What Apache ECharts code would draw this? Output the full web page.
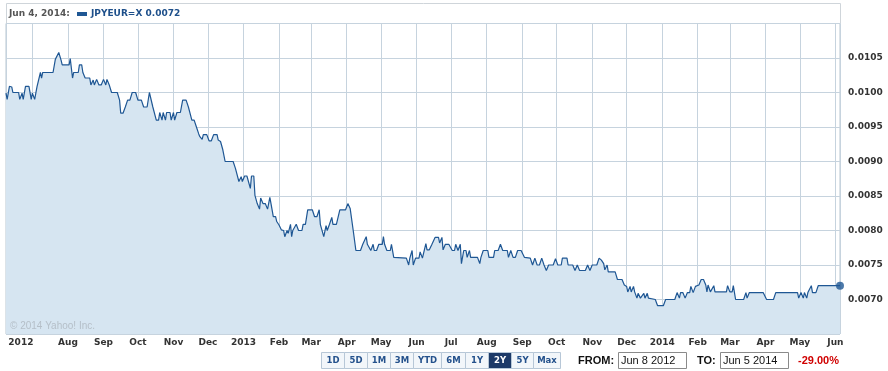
<!DOCTYPE html>
<html>
<head>
<meta charset="utf-8">
<script src="https://cdn.jsdelivr.net/npm/echarts@6/dist/echarts.min.js"></script>
<style>
html,body{margin:0;padding:0;background:#fff;}
#chart{width:888px;height:371px;}
</style>
</head>
<body>
<div id="chart"></div>
<script>
// ---- data ----
const seriesName = 'JPYEUR=X';
const legendDate = 'Jun 4, 2014:';
const legendValue = '0.0072';
const startDate = '2012-06-08';
const endDate = '2014-06-05';
const yTicks = [0.0070, 0.0075, 0.0080, 0.0085, 0.0090, 0.0095, 0.0100, 0.0105];
const monthNames = ['Jan','Feb','Mar','Apr','May','Jun','Jul','Aug','Sep','Oct','Nov','Dec'];
const rangeButtons = ['1D','5D','1M','3M','YTD','6M','1Y','2Y','5Y','Max'];
const selectedRange = '2Y';
const fromText = 'Jun 8 2012';
const toText = 'Jun 5 2014';
const changeText = '-29.00%';
const copyrightText = '\u00A9 2014 Yahoo! Inc.';

const dates = [
'2012-06-08','2012-06-09','2012-06-11','2012-06-13','2012-06-14','2012-06-19','2012-06-20','2012-06-22','2012-06-23','2012-06-25','2012-06-28','2012-06-30',
'2012-07-01','2012-07-03','2012-07-05','2012-07-08','2012-07-09','2012-07-10','2012-07-19','2012-07-21','2012-07-22','2012-07-24','2012-07-26','2012-07-27',
'2012-08-02','2012-08-03','2012-08-05','2012-08-06','2012-08-10','2012-08-11','2012-08-13','2012-08-14','2012-08-16','2012-08-20','2012-08-21','2012-08-23','2012-08-24','2012-08-26','2012-08-28','2012-08-30',
'2012-09-01','2012-09-03','2012-09-04','2012-09-06','2012-09-08','2012-09-13','2012-09-15','2012-09-16','2012-09-18','2012-09-20','2012-09-22','2012-09-24','2012-09-26','2012-09-29',
'2012-10-01','2012-10-04','2012-10-06','2012-10-09','2012-10-11','2012-10-14','2012-10-15','2012-10-17','2012-10-19','2012-10-20','2012-10-22','2012-10-23','2012-10-25','2012-10-26','2012-10-29','2012-10-30',
'2012-11-01','2012-11-02','2012-11-04','2012-11-07','2012-11-09','2012-11-12','2012-11-14','2012-11-17','2012-11-19','2012-11-21','2012-11-23','2012-11-24','2012-11-26','2012-11-27','2012-11-30',
'2012-12-02','2012-12-04','2012-12-06','2012-12-09','2012-12-10','2012-12-12','2012-12-14','2012-12-16','2012-12-23','2012-12-25','2012-12-26','2012-12-28','2012-12-30','2012-12-31',
'2013-01-02','2013-01-04','2013-01-07','2013-01-08','2013-01-10','2013-01-11','2013-01-13','2013-01-15','2013-01-16','2013-01-18','2013-01-20','2013-01-22','2013-01-24','2013-01-25','2013-01-27','2013-01-29','2013-01-30',
'2013-02-01','2013-02-03','2013-02-05','2013-02-06','2013-02-08','2013-02-09','2013-02-11','2013-02-12','2013-02-13','2013-02-16','2013-02-18','2013-02-21','2013-02-22','2013-02-24','2013-02-26',
'2013-03-02','2013-03-04','2013-03-06','2013-03-08','2013-03-09','2013-03-10','2013-03-12','2013-03-14','2013-03-15','2013-03-17','2013-03-19','2013-03-20','2013-03-23','2013-03-26','2013-03-31',
'2013-04-02','2013-04-04','2013-04-05','2013-04-07','2013-04-09','2013-04-13','2013-04-15','2013-04-16','2013-04-18','2013-04-19','2013-04-20','2013-04-22','2013-04-24','2013-04-25','2013-04-27','2013-04-29',
'2013-05-02','2013-05-03','2013-05-04','2013-05-06','2013-05-09','2013-05-10','2013-05-12','2013-05-23','2013-05-25','2013-05-26','2013-05-28','2013-05-29','2013-05-31',
'2013-06-03','2013-06-04','2013-06-06','2013-06-07','2013-06-09','2013-06-10','2013-06-12','2013-06-14','2013-06-17','2013-06-20','2013-06-21','2013-06-23','2013-06-24','2013-06-26','2013-06-29',
'2013-07-02','2013-07-04','2013-07-05','2013-07-07','2013-07-09','2013-07-10','2013-07-12','2013-07-14','2013-07-15','2013-07-17','2013-07-18','2013-07-24','2013-07-26','2013-07-27','2013-07-29',
'2013-08-02','2013-08-03','2013-08-07','2013-08-08','2013-08-11','2013-08-13','2013-08-15','2013-08-19','2013-08-20','2013-08-22','2013-08-24','2013-08-26','2013-08-28','2013-08-31',
'2013-09-03','2013-09-08','2013-09-10','2013-09-12','2013-09-14','2013-09-16','2013-09-18','2013-09-20','2013-09-22','2013-09-24','2013-09-28','2013-09-30',
'2013-10-02','2013-10-05','2013-10-06','2013-10-10','2013-10-11','2013-10-15','2013-10-17','2013-10-19','2013-10-21','2013-10-26','2013-10-28','2013-10-30',
'2013-11-01','2013-11-05','2013-11-07','2013-11-09','2013-11-11','2013-11-12','2013-11-14','2013-11-15','2013-11-21','2013-11-23','2013-11-27','2013-11-29',
'2013-12-01','2013-12-02','2013-12-04','2013-12-05','2013-12-07','2013-12-08','2013-12-10','2013-12-11','2013-12-13','2013-12-16','2013-12-17','2013-12-19','2013-12-20','2013-12-26','2013-12-28',
'2014-01-02','2014-01-04','2014-01-12','2014-01-14','2014-01-16','2014-01-17','2014-01-19','2014-01-21','2014-01-23','2014-01-25','2014-01-26','2014-01-28','2014-01-30','2014-01-31',
'2014-02-02','2014-02-04','2014-02-06','2014-02-08','2014-02-09','2014-02-10','2014-02-12','2014-02-13','2014-02-15','2014-02-16','2014-02-26','2014-02-27',
'2014-03-01','2014-03-03','2014-03-04','2014-03-06','2014-03-13','2014-03-15','2014-03-16','2014-03-18','2014-03-30',
'2014-04-02','2014-04-08','2014-04-10','2014-04-29','2014-04-30',
'2014-05-02','2014-05-04','2014-05-05','2014-05-07','2014-05-08','2014-05-11','2014-05-12','2014-05-15','2014-05-17','2014-06-05'
];

const rates = [
0.00999,0.00990,0.01009,0.01008,0.01000,0.01000,0.00990,0.00999,0.00990,0.01009,0.01009,0.00990,
0.00999,0.00990,0.01008,0.01029,0.01021,0.01029,0.01029,0.01048,0.01050,0.01058,0.01047,0.01040,
0.01040,0.01049,0.01021,0.01029,0.01029,0.01040,0.01040,0.01029,0.01021,0.01021,0.01011,0.01018,0.01011,0.01019,0.01011,0.01011,
0.01019,0.01011,0.01019,0.01011,0.01000,0.01000,0.00989,0.00970,0.00970,0.00979,0.00989,0.00989,0.01000,0.01000,
0.00989,0.00989,0.00979,0.00979,0.01000,0.00979,0.00979,0.00960,0.00960,0.00971,0.00960,0.00971,0.00960,0.00971,0.00971,0.00960,
0.00971,0.00960,0.00971,0.00971,0.00989,0.00989,0.00979,0.00960,0.00960,0.00950,0.00940,0.00936,0.00932,0.00939,0.00939,
0.00930,0.00930,0.00939,0.00939,0.00931,0.00929,0.00917,0.00900,0.00900,0.00890,0.00888,0.00871,0.00878,0.00871,
0.00879,0.00879,0.00861,0.00879,0.00879,0.00851,0.00839,0.00831,0.00847,0.00839,0.00839,0.00831,0.00848,0.00839,0.00820,0.00820,0.00813,
0.00808,0.00801,0.00800,0.00791,0.00800,0.00796,0.00809,0.00791,0.00800,0.00809,0.00800,0.00800,0.00809,0.00809,0.00830,
0.00830,0.00820,0.00820,0.00830,0.00809,0.00809,0.00791,0.00807,0.00800,0.00809,0.00819,0.00809,0.00809,0.00830,0.00830,
0.00839,0.00832,0.00830,0.00796,0.00771,0.00771,0.00780,0.00780,0.00791,0.00780,0.00780,0.00771,0.00780,0.00771,0.00771,0.00780,
0.00780,0.00791,0.00780,0.00771,0.00771,0.00780,0.00761,0.00760,0.00750,0.00760,0.00771,0.00750,0.00760,
0.00760,0.00769,0.00760,0.00762,0.00781,0.00772,0.00772,0.00779,0.00790,0.00790,0.00782,0.00790,0.00772,0.00780,0.00780,
0.00771,0.00771,0.00780,0.00771,0.00780,0.00752,0.00771,0.00771,0.00761,0.00771,0.00761,0.00761,0.00752,0.00761,0.00771,
0.00771,0.00761,0.00761,0.00771,0.00771,0.00780,0.00771,0.00771,0.00761,0.00771,0.00761,0.00761,0.00771,0.00771,
0.00761,0.00760,0.00750,0.00760,0.00750,0.00750,0.00760,0.00750,0.00742,0.00750,0.00750,0.00759,
0.00750,0.00750,0.00760,0.00760,0.00750,0.00750,0.00742,0.00750,0.00742,0.00742,0.00750,0.00742,
0.00750,0.00750,0.00760,0.00757,0.00752,0.00743,0.00750,0.00740,0.00740,0.00729,0.00729,0.00721,
0.00719,0.00711,0.00719,0.00711,0.00719,0.00711,0.00702,0.00709,0.00702,0.00709,0.00702,0.00709,0.00702,0.00700,0.00691,
0.00691,0.00700,0.00700,0.00710,0.00702,0.00710,0.00710,0.00702,0.00710,0.00710,0.00719,0.00710,0.00719,0.00721,
0.00721,0.00729,0.00729,0.00721,0.00711,0.00721,0.00711,0.00711,0.00720,0.00711,0.00711,0.00720,
0.00711,0.00711,0.00720,0.00700,0.00700,0.00710,0.00702,0.00710,0.00710,
0.00700,0.00700,0.00710,0.00710,0.00702,
0.00710,0.00702,0.00710,0.00702,0.00710,0.00720,0.00710,0.00710,0.00720,0.00720
];

// ---- chart ----
const FONT = '"DejaVu Sans", Verdana, sans-serif';
const ARIAL = '"Liberation Sans", Arial, sans-serif';
const LINE = '#1f5794';
const GRIDC = '#c6d3de';
const startTs = echarts.time.parse(startDate).getTime();
const endTs = echarts.time.parse(endDate).getTime();
const DAY = 86400000;

const seriesData = dates.map((d, i) => [d, rates[i]]);
const lastPoint = seriesData[seriesData.length - 1];

const chart = echarts.init(document.getElementById('chart'), null, {renderer: 'canvas'});

// bottom range buttons & inputs (UI decorations)
const btnEdges = [321, 344, 367, 390, 413, 441, 465, 488, 511, 533, 560];
const graphics = [];
rangeButtons.forEach((b, i) => {
  const sel = b === selectedRange;
  graphics.push({
    type: 'rect', silent: true,
    shape: {x: btnEdges[i] + 0.5, y: 352.5, width: btnEdges[i + 1] - btnEdges[i], height: 16},
    style: {fill: sel ? '#1d3a68' : '#f2f6fa', stroke: '#b7c7d7', lineWidth: 1}
  });
  graphics.push({
    type: 'text', silent: true,
    x: (btnEdges[i] + btnEdges[i + 1]) / 2 + 0.5, y: 361,
    style: {text: b, fill: sel ? '#ffffff' : '#24518c', font: 'bold 8.5px ' + FONT, align: 'center', verticalAlign: 'middle'}
  });
});
graphics.push(
  {type: 'text', silent: true, x: 578, y: 361, style: {text: 'FROM:', fill: '#111', font: 'bold 11px ' + ARIAL, verticalAlign: 'middle'}},
  {type: 'rect', silent: true, shape: {x: 618.5, y: 352.5, width: 68, height: 16}, style: {fill: '#fff', stroke: '#8a8a8a', lineWidth: 1}},
  {type: 'text', silent: true, x: 621, y: 361, style: {text: fromText, fill: '#111', font: '11px ' + ARIAL, verticalAlign: 'middle'}},
  {type: 'text', silent: true, x: 697, y: 361, style: {text: 'TO:', fill: '#111', font: 'bold 11px ' + ARIAL, verticalAlign: 'middle'}},
  {type: 'rect', silent: true, shape: {x: 720.5, y: 352.5, width: 68, height: 16}, style: {fill: '#fff', stroke: '#8a8a8a', lineWidth: 1}},
  {type: 'text', silent: true, x: 723, y: 361, style: {text: toText, fill: '#111', font: '11px ' + ARIAL, verticalAlign: 'middle'}},
  {type: 'text', silent: true, x: 798, y: 361, style: {text: changeText, fill: '#d00000', font: 'bold 11px ' + ARIAL, verticalAlign: 'middle'}},
  // legend strip
  {type: 'rect', silent: true, shape: {x: 6.5, y: 3.5, width: 834, height: 20}, style: {fill: 'none', stroke: '#cfd5da', lineWidth: 1}},
  {type: 'text', silent: true, x: 9, y: 14, style: {text: legendDate, fill: '#555', font: 'bold 9px ' + FONT, verticalAlign: 'middle'}},
  {type: 'rect', silent: true, shape: {x: 77, y: 12, width: 10, height: 4}, style: {fill: LINE}},
  {type: 'text', silent: true, x: 91, y: 14, style: {text: seriesName + ' ' + legendValue, fill: '#1d4f8a', font: 'bold 9px ' + FONT, verticalAlign: 'middle'}},
  {type: 'text', silent: true, x: 10, y: 326, z: 10, style: {text: copyrightText, fill: '#b5bfc8', font: '10px ' + ARIAL, verticalAlign: 'middle'}}
);

const option = {
  animation: false,
  backgroundColor: '#ffffff',
  grid: {left: 6, right: 48, top: 23.5, bottom: 37, show: true, borderColor: '#b9c6d1', borderWidth: 1, backgroundColor: 'transparent'},
  xAxis: {
    type: 'time',
    min: startDate,
    max: endDate,
    minInterval: 28 * DAY,
    maxInterval: 31 * DAY,
    axisLine: {show: false},
    axisTick: {show: false},
    splitLine: {show: true, lineStyle: {color: GRIDC, width: 1}},
    axisLabel: {
      show: true,
      interval: 0,
      hideOverlap: false,
      margin: 4,
      color: '#333',
      fontFamily: FONT,
      fontSize: 9,
      fontWeight: 'bold',
      formatter: function (value) {
        const d = new Date(value);
        if (value <= startTs + 1000) return '';
        if (value >= endTs - 1000) return '';
        if (d.getDate() !== 1) return '';
        // first month boundary after the start carries the starting year, drawn left of its tick
        if (value - startTs < 25 * DAY) return '{first|' + d.getFullYear() + '}';
        const m = d.getMonth();
        if (m === 0) return String(d.getFullYear());
        return monthNames[m];
      },
      rich: {
        first: {padding: [0, 23, 0, 0], color: '#333', fontFamily: FONT, fontSize: 9, fontWeight: 'bold'}
      }
    }
  },
  yAxis: {
    type: 'value',
    position: 'right',
    min: 0.0065,
    max: 0.0110,
    interval: 0.0005,
    axisLine: {show: false},
    axisTick: {show: false},
    splitLine: {show: true, lineStyle: {color: GRIDC, width: 1}},
    axisLabel: {
      margin: 8,
      color: '#333',
      fontFamily: FONT,
      fontSize: 9,
      fontWeight: 'bold',
      formatter: function (v) {
        const hit = yTicks.find(t => Math.abs(t - v) < 1e-7);
        return hit === undefined ? '' : hit.toFixed(4);
      }
    }
  },
  series: [
    {
      type: 'line',
      name: seriesName,
      data: seriesData,
      showSymbol: false,
      symbol: 'none',
      lineStyle: {color: LINE, width: 1.2},
      areaStyle: {color: '#d6e5f1', opacity: 1, origin: 'start'},
      z: 2
    },
    {
      type: 'scatter',
      data: [lastPoint],
      symbolSize: 8,
      clip: false,
      itemStyle: {color: LINE},
      z: 3
    }
  ],
  graphic: graphics
};
chart.setOption(option);
</script>
</body>
</html>
